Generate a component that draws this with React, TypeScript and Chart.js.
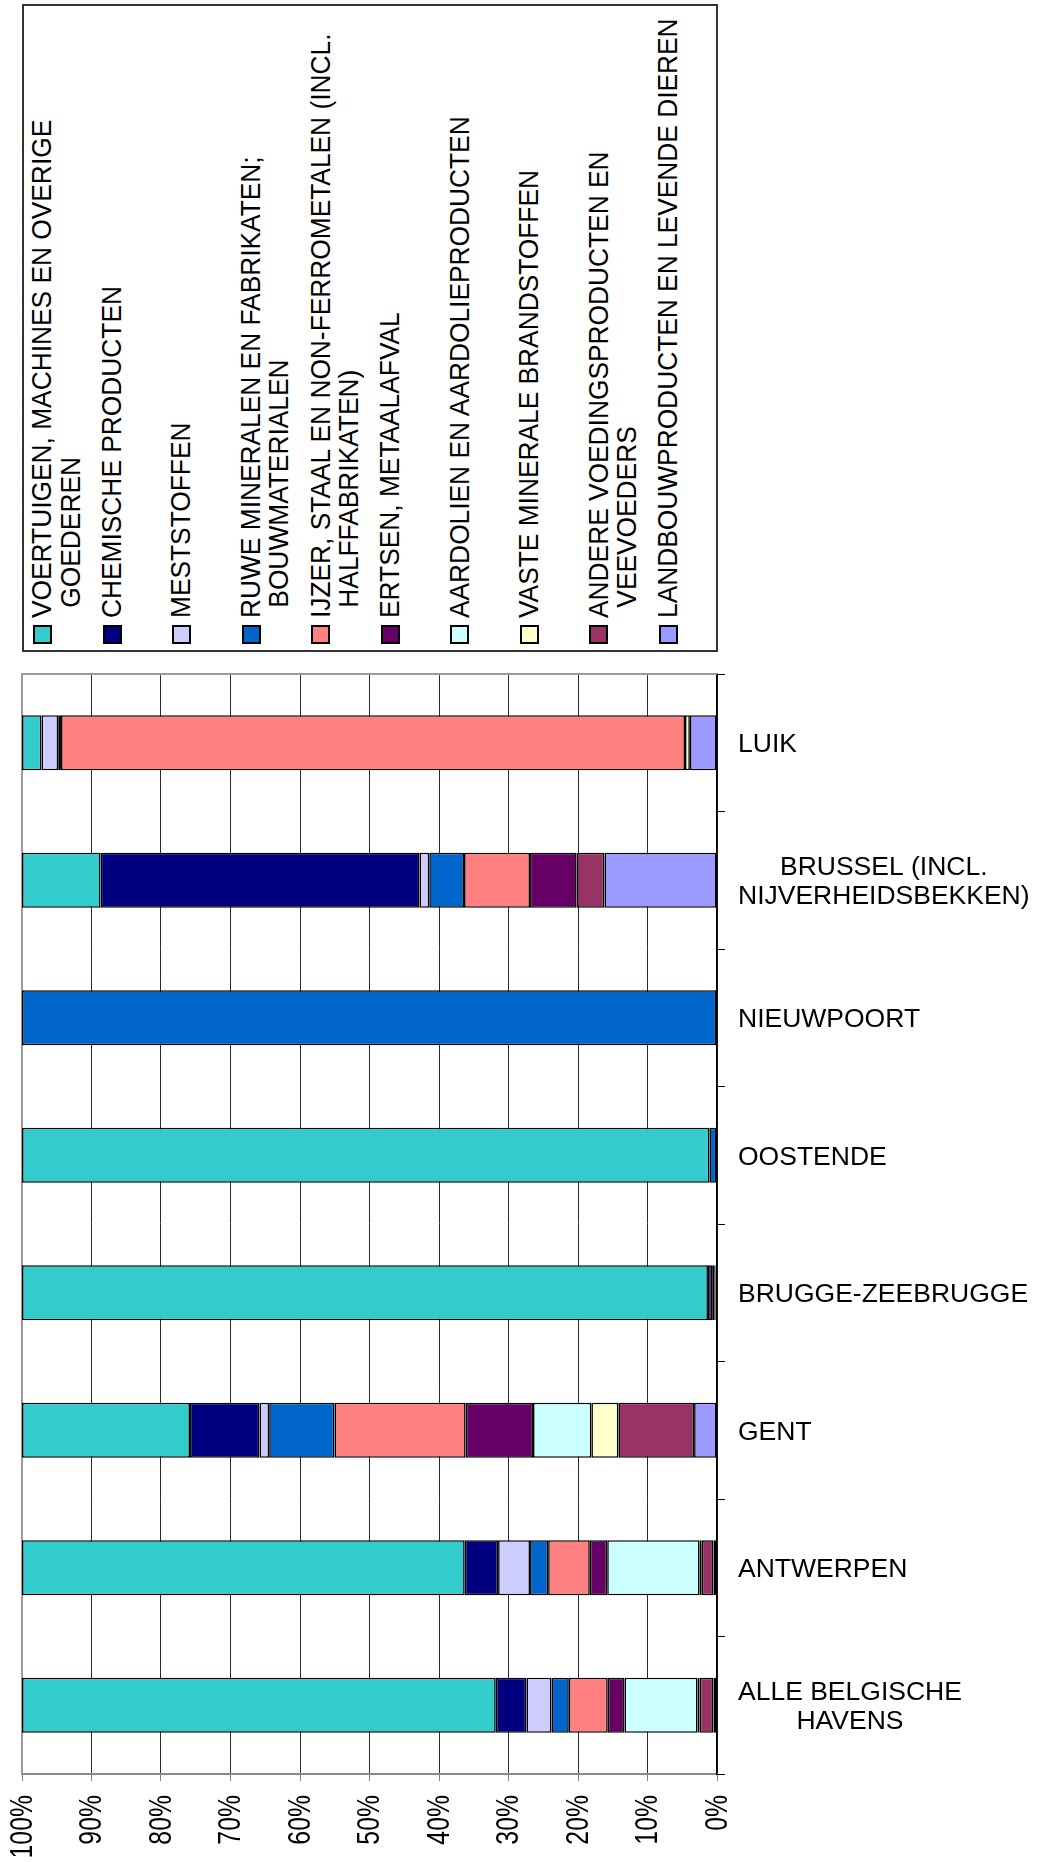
import React, { useEffect, useRef } from 'react';
import { Chart, registerables } from 'chart.js';

Chart.register(...registerables);

const FONT = '"Liberation Sans", Arial, Helvetica, sans-serif';

const categories = [
  'LUIK',
  'BRUSSEL (INCL. NIJVERHEIDSBEKKEN)',
  'NIEUWPOORT',
  'OOSTENDE',
  'BRUGGE-ZEEBRUGGE',
  'GENT',
  'ANTWERPEN',
  'ALLE BELGISCHE HAVENS',
];
const categoryLines = [
  ['LUIK'],
  ['BRUSSEL (INCL.', 'NIJVERHEIDSBEKKEN)'],
  ['NIEUWPOORT'],
  ['OOSTENDE'],
  ['BRUGGE-ZEEBRUGGE'],
  ['GENT'],
  ['ANTWERPEN'],
  ['ALLE BELGISCHE', 'HAVENS'],
];

const seriesNames = [
  'VOERTUIGEN, MACHINES EN OVERIGE GOEDEREN',
  'CHEMISCHE PRODUCTEN',
  'MESTSTOFFEN',
  'RUWE MINERALEN EN FABRIKATEN; BOUWMATERIALEN',
  'IJZER, STAAL EN NON-FERROMETALEN (INCL. HALFFABRIKATEN)',
  'ERTSEN, METAALAFVAL',
  'AARDOLIEN EN AARDOLIEPRODUCTEN',
  'VASTE MINERALE BRANDSTOFFEN',
  'ANDERE VOEDINGSPRODUCTEN EN VEEVOEDERS',
  'LANDBOUWPRODUCTEN EN LEVENDE DIEREN',
];
const legendLines = [
  ['VOERTUIGEN, MACHINES EN OVERIGE', 'GOEDEREN'],
  ['CHEMISCHE PRODUCTEN'],
  ['MESTSTOFFEN'],
  ['RUWE MINERALEN EN FABRIKATEN;', 'BOUWMATERIALEN'],
  ['IJZER, STAAL EN NON-FERROMETALEN (INCL.', 'HALFFABRIKATEN)'],
  ['ERTSEN, METAALAFVAL'],
  ['AARDOLIEN EN AARDOLIEPRODUCTEN'],
  ['VASTE MINERALE BRANDSTOFFEN'],
  ['ANDERE VOEDINGSPRODUCTEN EN', 'VEEVOEDERS'],
  ['LANDBOUWPRODUCTEN EN LEVENDE DIEREN'],
];
const seriesColors = [
  '#33CCCC',
  '#000080',
  '#CCCCFF',
  '#0066CC',
  '#FF8080',
  '#660066',
  '#CCFFFF',
  '#FFFFCC',
  '#993366',
  '#9999FF',
];

// values per category (same order as categories), percent of tonnage
const voertuigen = [2.8, 11.3, 0, 98.9, 98.7, 24.2, 63.7, 68.1];
const chemische = [0, 45.9, 0, 0, 0.6, 10.0, 4.8, 4.4];
const meststoffen = [2.4, 1.4, 0, 0, 0, 1.4, 4.6, 3.6];
const ruweMineralen = [0.4, 5.0, 100, 1.1, 0, 9.4, 2.6, 2.5];
const ijzerStaal = [89.7, 9.5, 0, 0, 0.3, 18.9, 6.0, 5.6];
const ertsen = [0, 6.7, 0, 0, 0.2, 9.7, 2.5, 2.4];
const aardolien = [0, 0, 0, 0, 0, 8.4, 13.3, 10.5];
const vasteBrandstoffen = [0.7, 0, 0, 0, 0, 3.9, 0.3, 0.3];
const andereVoeding = [0, 4.0, 0, 0, 0.2, 10.9, 1.7, 2.0];
const landbouw = [3.9, 16.2, 0, 0, 0, 3.3, 0.5, 0.5];

const xTickValues = [0, 10, 20, 30, 40, 50, 60, 70, 80, 90, 100];
const xTickLabels = ['0%', '10%', '20%', '30%', '40%', '50%', '60%', '70%', '80%', '90%', '100%'];

export default function App() {
  const ref = useRef<HTMLCanvasElement | null>(null);

  useEffect(() => {
    const canvas = ref.current;
    if (!canvas) return;

    const seriesValues = [
      voertuigen, chemische, meststoffen, ruweMineralen, ijzerStaal,
      ertsen, aardolien, vasteBrandstoffen, andereVoeding, landbouw,
    ];
    const totals = categories.map((_, i) =>
      seriesValues.reduce((s, arr) => s + arr[i], 0)
    );
    const datasets = seriesValues
      .map((vals, k) => ({
        label: seriesNames[k],
        data: vals.map((v, i) => (v > 0 ? (v / totals[i]) * 100 : null)),
        backgroundColor: seriesColors[k],
        borderColor: '#000',
        borderWidth: 1.6,
        borderSkipped: false,
        barPercentage: 0.4,
        categoryPercentage: 1,
      }))
      .reverse();

    const framePlugin = {
      id: 'frame',
      beforeDatasetsDraw(chart: any) {
        const { ctx, chartArea: a } = chart;
        ctx.save();
        ctx.strokeStyle = '#9a9a9a';
        ctx.lineWidth = 2;
        ctx.beginPath();
        ctx.moveTo(a.left, a.bottom);
        ctx.lineTo(a.left, a.top);
        ctx.lineTo(a.right, a.top);
        ctx.stroke();
        ctx.restore();
      },
    };

    // value-axis labels: rotated, slightly condensed like the original rendering
    const xLabelPlugin = {
      id: 'xLabels',
      afterDraw(chart: any) {
        const { ctx } = chart;
        const xs = chart.scales.x;
        ctx.save();
        ctx.font = `31px ${FONT}`;
        ctx.fillStyle = '#000';
        ctx.textAlign = 'right';
        ctx.textBaseline = 'middle';
        xTickValues.forEach((v, i) => {
          const px = xs.getPixelForValue(v);
          ctx.save();
          ctx.translate(px + 1, xs.top + 21);
          ctx.rotate(-Math.PI / 2);
          ctx.scale(0.8, 1);
          ctx.fillText(xTickLabels[i], 0, 0);
          ctx.restore();
        });
        ctx.restore();
      },
    };

    const catLabelPlugin = {
      id: 'catLabels',
      afterDraw(chart: any) {
        const { ctx } = chart;
        const ys = chart.scales.y;
        ctx.save();
        ctx.font = `26.5px ${FONT}`;
        ctx.fillStyle = '#000';
        ctx.textBaseline = 'middle';
        ctx.textAlign = 'left';
        const x0 = ys.right + 13;
        categoryLines.forEach((lines, i) => {
          const yc = ys.getPixelForValue(i);
          const widths = lines.map((l) => ctx.measureText(l).width);
          const bw = Math.max(...widths);
          lines.forEach((l, j) => {
            const y = yc + (j - (lines.length - 1) / 2) * 29 + 2;
            ctx.fillText(l, x0 + (bw - widths[j]) / 2, y);
          });
        });
        ctx.restore();
      },
    };

    const chart = new Chart(canvas, {
      type: 'bar',
      data: { labels: categories, datasets: datasets as any },
      options: {
        indexAxis: 'y',
        responsive: false,
        animation: false,
        devicePixelRatio: 1,
        layout: { padding: { left: 22, top: 674, right: 312, bottom: 0 } },
        plugins: {
          legend: { display: false },
          tooltip: { enabled: false },
        },
        scales: {
          x: {
            type: 'linear',
            stacked: true,
            reverse: true,
            min: 0,
            max: 100,
            position: 'bottom',
            afterBuildTicks: (s: any) => {
              s.ticks = xTickValues.map((v) => ({ value: v }));
            },
            ticks: { display: false },
            grid: {
              color: '#2a2a2a',
              lineWidth: 1,
              drawTicks: true,
              tickLength: 7,
              tickColor: '#808080',
            },
            border: { display: true, color: '#8a8a8a', width: 2 },
            afterFit: (s: any) => {
              s.height = 88;
            },
          } as any,
          y: {
            type: 'category',
            stacked: true,
            position: 'right',
            ticks: { display: false },
            grid: {
              drawOnChartArea: false,
              drawTicks: true,
              tickLength: 8,
              offset: true,
              color: '#000',
            },
            border: { display: true, color: '#000', width: 1.5 },
            afterFit: (s: any) => {
              s.width = 8;
            },
          } as any,
        },
      },
      plugins: [framePlugin, xLabelPlugin, catLabelPlugin],
    });
    return () => chart.destroy();
  }, []);

  const rowStep = 69.55;
  return (
    <div style={{ fontFamily: FONT }}>
      <canvas
        ref={ref}
        width={1037}
        height={1862}
        style={{ position: 'absolute', left: 0, top: 0, width: 1037, height: 1862, display: 'block' }}
      />
      <div
        style={{
          position: 'absolute',
          left: 22,
          top: 4,
          width: 696,
          height: 648,
          border: '2px solid #333',
          boxSizing: 'border-box',
          background: '#fff',
          overflow: 'hidden',
        }}
      >
        <div
          style={{
            position: 'absolute',
            left: 24,
            top: -24,
            width: 644,
            height: 692,
            transform: 'rotate(-90deg)',
            transformOrigin: '50% 50%',
          }}
        >
          {legendLines.map((lines, i) => {
            const c = 18.5 + i * rowStep;
            return (
              <div key={i}>
                <div
                  style={{
                    position: 'absolute',
                    left: 6,
                    top: c - 9.5,
                    width: 19,
                    height: 19,
                    boxSizing: 'border-box',
                    border: '2px solid #000',
                    background: seriesColors[i],
                  }}
                />
                <div
                  style={{
                    position: 'absolute',
                    left: 32,
                    top: c - 14.2,
                    fontSize: 28,
                    lineHeight: '28.4px',
                    color: '#000',
                    whiteSpace: 'nowrap',
                    transform: 'scaleX(0.94)',
                    transformOrigin: '0 50%',
                  }}
                >
                  {lines.map((l, j) => (
                    <div key={j} style={{ paddingLeft: j > 0 ? 11 : 0 }}>
                      {l}
                    </div>
                  ))}
                </div>
              </div>
            );
          })}
        </div>
      </div>
    </div>
  );
}
